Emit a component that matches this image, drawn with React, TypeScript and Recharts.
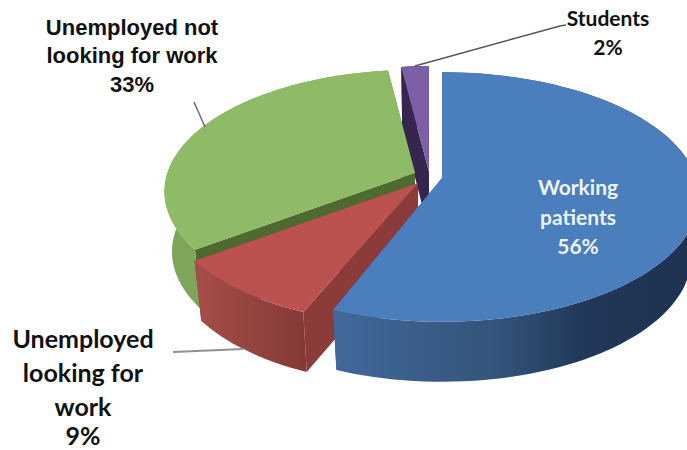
import { Pie, PieChart } from 'recharts';

// Painted back to front, counter-clockwise from twelve o'clock
const categories = ['Students', 'Unemployed not looking for work', 'Unemployed looking for work', 'Working patients'];
const shares = [2, 33, 9, 56];
const labelLines = [
  ['Students'],
  ['Unemployed not', 'looking for work'],
  ['Unemployed', 'looking for', 'work'],
  ['Working', 'patients'],
];

const chartData = categories.map((name, i) => ({ name, value: shares[i] }));

const CX = 443;
const CY = 178;
const RADIUS = 254;
const TILT = 0.48; // vertical squash of the disc
const PERSPECTIVE = 0.152; // near edge looks larger than the far edge
const DEPTH = 60;
const FLOOR_SCALE = 0.97; // the underside sits further away, so it is a bit narrower

// how far each slice is pulled out of the pie, with small per-slice shape tweaks
const explode = [
  { dx: -14, dy: -6, scale: 1, trim: 0 },
  { dx: -28, dy: -5, scale: 0.975, trim: 0 },
  { dx: -25, dy: 5, scale: 0.99, trim: 1.5 },
  { dx: -1, dy: 0, scale: 1, trim: 0 },
];

const palette = [
  { top: '#7c5fa6', inner: '#35254f', side: [['0', '#35254f'], ['1', '#35254f']] },
  { top: '#8fbb66', inner: '#4f6a30', side: [['0', '#7fa55b'], ['1', '#7fa55b']] },
  { top: '#bc5250', inner: '#8a3b3a', side: [['0', '#a64e4b'], ['1', '#853936']] },
  { top: '#4a7ebd', inner: '#3b659a', side: [['0', '#41699a'], ['0.45', '#33547a'], ['0.68', '#22385a'], ['1', '#1e3150']] },
];

const labelStyle = [
  { x: 608, ys: [26, 55], size: 21, family: 'Lato, sans-serif', fill: '#111' },
  { x: 132, ys: [35, 63, 92], size: 22, family: '"Liberation Sans", sans-serif', fill: '#111' },
  { x: 83, ys: [348, 382, 416, 445], size: 25, family: 'Lato, sans-serif', fill: '#111' },
  { x: 578, ys: [195, 225, 254], size: 21, family: 'Lato, sans-serif', fill: '#eef3f9' },
];

const leaders = [
  { points: '415,66 560,26 566,25', stroke: '#555', width: 1.5 },
  { points: '194,102 205,127', stroke: '#6a6a78', width: 1.5 },
  { points: '173,352 243,349', stroke: '#8b9298', width: 2 },
];

const project = (deg: number, r: number, ox: number, oy: number) => {
  const a = (deg * Math.PI) / 180;
  const u = Math.cos(a);
  const v = -Math.sin(a);
  const w = 1 - PERSPECTIVE * v;
  return [ox + (r * u) / w, oy + (r * TILT * v) / w];
};

const toPath = (pts: number[][]) =>
  'M' + pts.map((p) => `${p[0].toFixed(1)},${p[1].toFixed(1)}`).join('L') + 'Z';

function Slice(props: any) {
  const { cx, cy, outerRadius, startAngle, endAngle, index } = props;
  const tweak = explode[index];
  const ox = cx + tweak.dx;
  const oy = cy + tweak.dy;
  const colors = palette[index];
  const r = outerRadius * tweak.scale;
  const end = endAngle - tweak.trim;

  const arc: number[][] = [];
  const steps = Math.max(4, Math.ceil(Math.abs(end - startAngle) / 2));
  for (let i = 0; i <= steps; i++) {
    arc.push(project(startAngle + ((end - startAngle) * i) / steps, r, ox, oy));
  }
  const lower = (p: number[]) => [ox + (p[0] - ox) * FLOOR_SCALE, p[1] + DEPTH];
  const apex = [ox, oy];
  const first = arc[0];
  const last = arc[arc.length - 1];
  const gradId = `side-${index}`;

  return (
    <g>
      <defs>
        <linearGradient id={gradId} x1="0" y1="0" x2="1" y2="0">
          {colors.side.map(([offset, color]) => (
            <stop key={offset} offset={offset} stopColor={color} />
          ))}
        </linearGradient>
      </defs>
      <path d={toPath([apex, first, lower(first), lower(apex)])} fill={colors.inner} />
      <path d={toPath([apex, last, lower(last), lower(apex)])} fill={colors.inner} />
      <path d={toPath([...arc, ...arc.map(lower).reverse()])} fill={`url(#${gradId})`} />
      <path d={toPath([apex, ...arc])} fill={colors.top} />
    </g>
  );
}

function SliceLabel(props: any) {
  const { index, value } = props;
  const style = labelStyle[index];
  const lines = [...labelLines[index], `${value}%`];
  return (
    <g>
      {leaders[index] && (
        <polyline
          points={leaders[index].points}
          fill="none"
          stroke={leaders[index].stroke}
          strokeWidth={leaders[index].width}
        />
      )}
      {lines.map((line, i) => (
        <text
          key={line}
          x={style.x}
          y={style.ys[i]}
          textAnchor="middle"
          fontFamily={style.family}
          fontSize={style.size}
          fontWeight={700}
          fill={style.fill}
        >
          {line}
        </text>
      ))}
    </g>
  );
}

export default function App() {
  return (
    <div style={{ position: 'absolute', left: 0, top: 0, width: 687, height: 450, overflow: 'hidden', background: '#fff' }}>
      <PieChart width={687} height={450} margin={{ top: 0, right: 0, bottom: 0, left: 0 }}>
        <Pie
          data={chartData}
          dataKey="value"
          nameKey="name"
          cx={CX}
          cy={CY}
          innerRadius={0}
          outerRadius={RADIUS}
          startAngle={90}
          endAngle={450}
          stroke="none"
          shape={Slice}
          inactiveShape={Slice}
          label={SliceLabel}
          labelLine={false}
          isAnimationActive={false}
        />
      </PieChart>
    </div>
  );
}
